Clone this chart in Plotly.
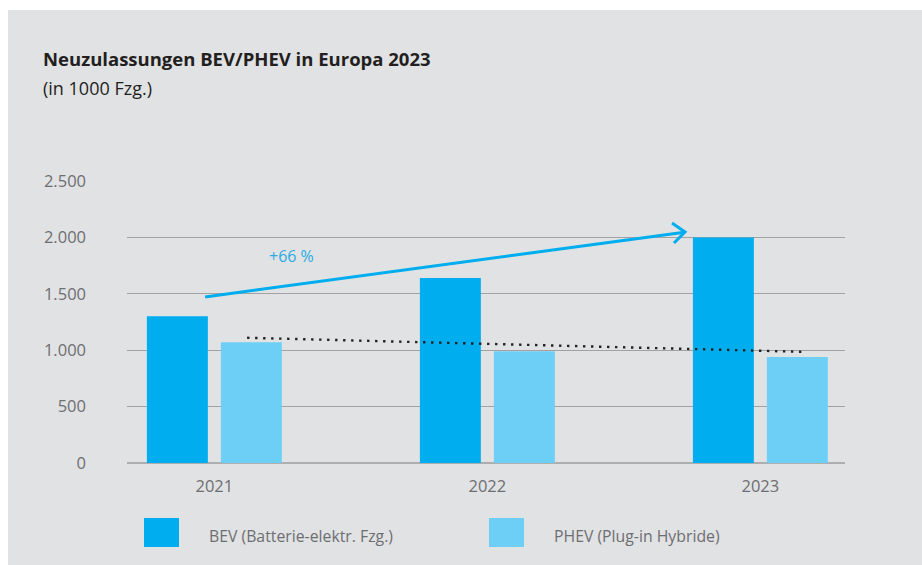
import plotly.graph_objects as go

# ---------------- data ----------------
years = ["2021", "2022", "2023"]
bev = [1300, 1640, 2000]
phev = [1070, 990, 940]
y_tick_vals = [0, 500, 1000, 1500, 2000, 2500]
y_tick_text = ["0", "500", "1.000", "1.500", "2.000", "2.500"]
series_names = ["BEV (Batterie-elektr. Fzg.)", "PHEV (Plug-in Hybride)"]
title_text = "<b>Neuzulassungen BEV/PHEV in Europa 2023</b>"
subtitle_text = "(in 1000 Fzg.)"
growth_label = "+66 %"

# ---------------- style ----------------
W, H = 922, 565
L, R, T, B = 127, 77, 181, 102
BG = "#e1e2e4"
C_BEV = "#00aeef"
C_PHEV = "#6dcff6"
TXT = "#6d6e71"
FONT = "Open Sans"

plot_w = W - L - R
plot_h = H - T - B


def px_x(px):
    return (px - L) / plot_w


def px_y(py):
    return (H - B - py) / plot_h


fig = go.Figure()
fig.add_trace(go.Bar(x=years, y=bev, name=series_names[0], marker_color=C_BEV,
                     marker_line_width=0, showlegend=False))
fig.add_trace(go.Bar(x=years, y=phev, name=series_names[1], marker_color=C_PHEV,
                     marker_line_width=0, showlegend=False))

shapes = [
    # grey panel
    dict(type="rect", xref="paper", yref="paper", x0=px_x(8), x1=px_x(W + 5),
         y0=px_y(10), y1=px_y(H + 5), fillcolor=BG, line_width=0, layer="below"),
    # trend arrow (BEV growth)
    dict(type="line", xref="x", yref="y", x0=-0.034, y0=1472, x1=1.722, y1=2046,
         line=dict(color=C_BEV, width=3)),
    dict(type="path", xref="x", yref="y", xsizemode="pixel", ysizemode="pixel",
         xanchor=1.724, yanchor=2048,
         path="M -13,9 L 0,0 L -11,-11", line=dict(color=C_BEV, width=3)),
    # dotted PHEV trend
    dict(type="line", xref="x", yref="y", x0=0.12, y0=1110, x1=2.165, y1=985,
         line=dict(color="#222222", width=2.4, dash="2.4px,5.6px")),
    # legend squares
    dict(type="rect", xref="paper", yref="paper", x0=px_x(144), x1=px_x(179),
         y0=px_y(547), y1=px_y(518), fillcolor=C_BEV, line_width=0),
    dict(type="rect", xref="paper", yref="paper", x0=px_x(489), x1=px_x(524),
         y0=px_y(547), y1=px_y(518), fillcolor=C_PHEV, line_width=0),
]

annotations = [
    dict(text=title_text, xref="paper", yref="paper", x=px_x(41), y=px_y(58),
         xanchor="left", yanchor="middle", showarrow=False,
         font=dict(family=FONT, size=18.5, color="#231f20")),
    dict(text=subtitle_text, xref="paper", yref="paper", x=px_x(41), y=px_y(88),
         xanchor="left", yanchor="middle", showarrow=False,
         font=dict(family=FONT, size=18, color="#231f20")),
    dict(text=growth_label, xref="x", yref="y", x=0.282, y=1835,
         xanchor="center", yanchor="middle", showarrow=False,
         font=dict(family=FONT, size=16, color="#29abe2")),
    dict(text=series_names[0], xref="paper", yref="paper", x=px_x(207), y=px_y(536),
         xanchor="left", yanchor="middle", showarrow=False,
         font=dict(family=FONT, size=15.8, color=TXT)),
    dict(text=series_names[1], xref="paper", yref="paper", x=px_x(552), y=px_y(536),
         xanchor="left", yanchor="middle", showarrow=False,
         font=dict(family=FONT, size=15.8, color=TXT)),
]

fig.update_layout(
    width=W, height=H,
    margin=dict(l=L, r=R, t=T, b=B, pad=0),
    paper_bgcolor="white",
    plot_bgcolor="rgba(0,0,0,0)",
    barmode="group",
    bargap=0.458,
    bargroupgap=0.176,
    font=dict(family=FONT, size=16.5, color=TXT),
    shapes=shapes,
    annotations=annotations,
    showlegend=False,
    xaxis=dict(type="category", range=[-0.32, 2.31], showgrid=False,
               showline=False, ticks="", ticklabelstandoff=11,
               tickfont=dict(family=FONT, size=16.5, color=TXT), fixedrange=True),
    yaxis=dict(range=[0, 2500], tickvals=y_tick_vals, ticktext=y_tick_text,
               showgrid=True, gridcolor="#a2a2a4", gridwidth=1.2,
               zeroline=True, zerolinecolor="#aeaeb0", zerolinewidth=2,
               showline=False, ticks="", ticklabelstandoff=40,
               tickfont=dict(family=FONT, size=16.5, color=TXT), fixedrange=True),
)

fig.write_html(
    "out.html",
    config={"displayModeBar": False},
    post_script="document.body.style.margin='0';document.body.style.padding='0';",
)
